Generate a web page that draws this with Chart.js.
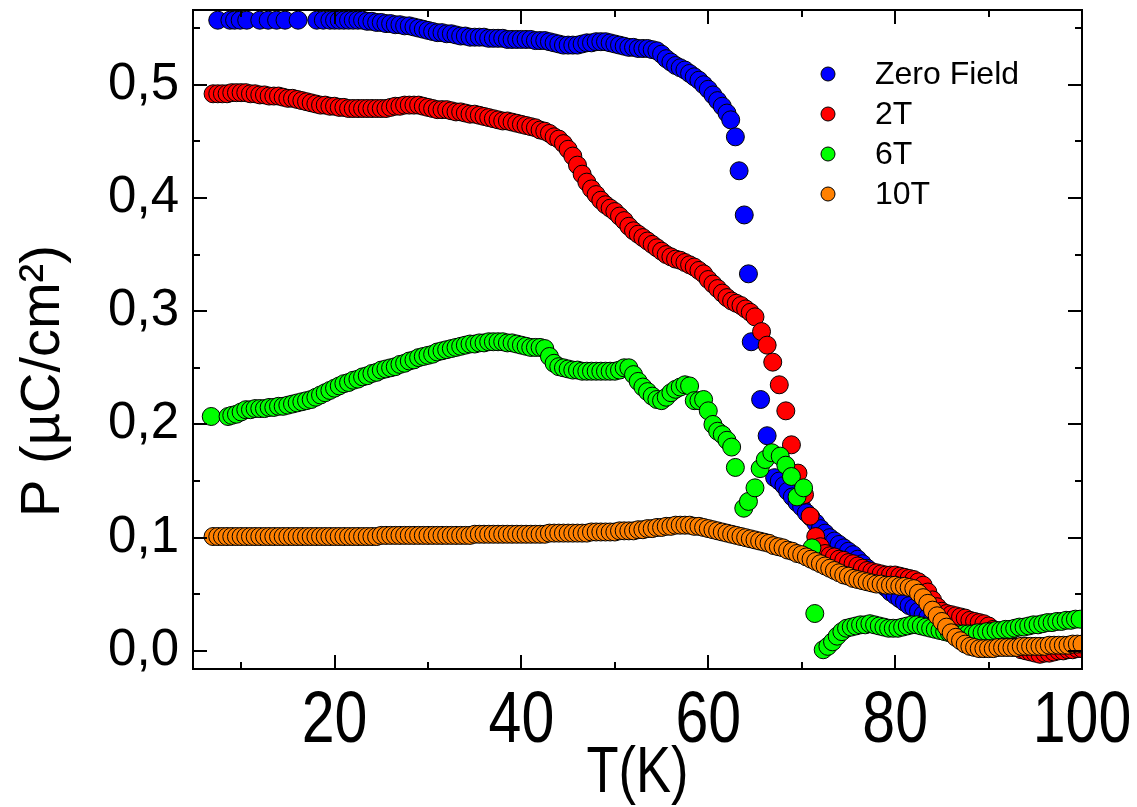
<!DOCTYPE html>
<html>
<head>
<meta charset="utf-8">
<script src="https://cdn.jsdelivr.net/npm/chart.js@4.4.0/dist/chart.umd.min.js"></script>
<style>
  html, body { margin: 0; padding: 0; background: #fff; }
  #wrap { width: 1137px; height: 807px; position: relative; }
</style>
</head>
<body>
<div id="wrap"><canvas id="pChart"></canvas></div>
<script>
// tick positions / labels
const xTickLabels = [20, 40, 60, 80, 100];
const xMinorTicks = [10, 30, 50, 70, 90];
const yTickLabels = [0, 0.1, 0.2, 0.3, 0.4, 0.5];
const yMinorTicks = [0.05, 0.15, 0.25, 0.35, 0.45, 0.55];

const seriesNames = ['Zero Field', '2T', '6T', '10T'];
const seriesColors = ['#0000ff', '#ff0000', '#00ff00', '#ff8000'];

// Zero Field
const tZero = [7.5, 8.8, 9.3, 9.9, 10.6, 12.0, 12.9, 13.8, 14.7, 16.1, 18.1, 18.8, 19.5,
  20, 20.5, 21, 21.5, 22, 22.5, 23, 23.5, 24, 24.5, 25, 25.5, 26, 26.5, 27, 27.5, 28, 28.5, 29, 29.5,
  30, 30.5, 31, 31.5, 32, 32.5, 33, 33.5, 34, 34.5, 35, 35.5, 36, 36.5, 37, 37.5, 38, 38.5, 39, 39.5,
  40, 40.5, 41, 41.5, 42, 42.5, 43, 43.5, 44, 44.5, 45, 45.5, 46, 46.5, 47, 47.5, 48, 48.5, 49, 49.5,
  50, 50.5, 51, 51.5, 52, 52.5, 53, 53.5, 54, 54.5, 55, 55.5, 56, 56.5, 57, 57.5, 58, 58.5, 59, 59.5,
  60, 60.5, 61, 61.5, 62, 62.4, 62.9, 63.3, 63.85, 64.3, 64.6, 65.6, 66.3, 67.1, 67.6, 68.1, 68.5,
  69, 69.5, 70, 70.5, 71, 71.5, 72, 72.5, 73, 73.5, 74, 74.5, 75, 75.5, 76, 76.5, 77, 77.5, 78, 78.5, 79, 79.5,
  80, 80.5, 81, 81.5, 82, 82.5, 83, 83.5, 84, 84.5, 85, 85.5, 86, 86.5, 87, 87.5, 88, 88.5, 89, 89.5, 90];
const pZero = [.557, .557, .557, .557, .557, .557, .557, .557, .557, .557, .557, .557, .557,
  .557, .557, .557, .557, .557, .557, .557, .556, .556, .555, .555, .554, .554, .553, .553, .552, .552, .551, .550, .549,
  .548, .547, .546, .546, .545, .545, .544, .543, .543, .542, .542, .542, .542, .541, .541, .541, .541, .540, .540, .540,
  .540, .540, .540, .539, .539, .539, .538, .537, .536, .535, .535, .535, .535, .536, .537, .537, .538, .538, .538, .537,
  .536, .535, .534, .533, .533, .532, .532, .532, .531, .530, .527, .523, .520, .517, .515, .513, .510, .507, .504, .500,
  .496, .491, .486, .481, .475, .469, .454, .424, .385, .333, .273, .222, .190, .153, .150, .146, .141,
  .136, .131, .127, .122, .118, .113, .108, .104, .100, .097, .094, .091, .088, .085, .081, .077, .073, .069, .064, .060, .056, .052,
  .049, .046, .043, .040, .038, .035, .032, .030, .028, .025, .023, .021, .019, .016, .014, .012, .010, .008, .006, .005, .004];

// 2T
const tRed = [7, 7.5, 8, 8.5, 9, 9.5, 10, 10.5, 11, 11.5,
  12, 12.5, 13, 13.5, 14, 14.5, 15, 15.5, 16, 16.5,
  17, 17.5, 18, 18.5, 19, 19.5, 20, 20.5, 21, 21.5,
  22, 22.5, 23, 23.5, 24, 24.5, 25, 25.5, 26, 26.5,
  27, 27.5, 28, 28.5, 29, 29.5, 30, 30.5, 31, 31.5,
  32, 32.5, 33, 33.5, 34, 34.5, 35, 35.5, 36, 36.5,
  37, 37.5, 38, 38.5, 39, 39.5, 40, 40.5, 41, 41.5,
  42, 42.5, 43, 43.5, 44, 44.5, 45, 45.5, 46, 46.5,
  47, 47.5, 48, 48.5, 49, 49.5, 50, 50.5, 51, 51.5,
  52, 52.5, 53, 53.5, 54, 54.5, 55, 55.5, 56, 56.5,
  57, 57.5, 58, 58.5, 59, 59.5, 60, 60.5, 61, 61.5,
  62, 62.5, 63, 63.5, 64, 64.5, 65,
  65.7, 66.3, 66.9, 67.6, 68.3, 68.9, 69.6, 70.3, 70.9, 71.5,
  72, 72.5, 73, 73.5, 74, 74.5, 75, 75.5, 76, 76.5,
  77, 77.5, 78, 78.5, 79, 79.5, 80, 80.5, 81, 81.5,
  82, 82.5, 83, 83.5, 84, 84.5, 85, 85.5, 86, 86.5,
  87, 87.5, 88, 88.5, 89, 89.5, 90, 90.5, 91, 91.5,
  92, 92.5, 93, 93.5, 94, 94.5, 95, 95.5, 96, 96.5,
  97, 97.5, 98, 98.5, 99, 99.5, 100];
const pRed = [.492, .492, .492, .492, .493, .493, .493, .493, .492, .492,
  .491, .491, .490, .490, .490, .489, .488, .488, .487, .486,
  .485, .484, .483, .482, .482, .481, .481, .480, .480, .479,
  .479, .479, .479, .479, .479, .479, .479, .479, .480, .481,
  .481, .482, .482, .482, .482, .481, .480, .479, .478, .478,
  .478, .477, .476, .476, .475, .474, .474, .473, .472, .471,
  .470, .469, .468, .468, .467, .466, .465, .464, .463, .462,
  .460, .459, .457, .454, .452, .448, .443, .437, .429, .421,
  .414, .408, .403, .398, .394, .391, .388, .384, .380, .375,
  .371, .368, .365, .362, .359, .356, .353, .350, .348, .346,
  .345, .343, .341, .339, .336, .333, .328, .324, .320, .316,
  .312, .309, .307, .305, .302, .299, .295,
  .282, .270, .255, .235, .212, .182, .157, .138, .119, .101,
  .092, .086, .084, .083, .081, .080, .078, .077, .075, .073,
  .071, .070, .069, .068, .067, .067, .067, .066, .065, .064,
  .063, .061, .058, .052, .045, .039, .035, .033, .032, .031,
  .030, .029, .027, .026, .025, .024, .022, .019, .015, .011,
  .008, .005, .003, .001, .000, -.001, -.002, -.003, -.002, -.002,
  -.001, .000, .000, .001, .001, .002, .002];

// 6T
const tGreen = [6.8, 8.6,
  9, 9.5, 10, 10.5, 11, 11.5, 12, 12.5, 13, 13.5,
  14, 14.5, 15, 15.5, 16, 16.5, 17, 17.5, 18, 18.5,
  19, 19.5, 20, 20.5, 21, 21.5, 22, 22.5, 23, 23.5,
  24, 24.5, 25, 25.5, 26, 26.5, 27, 27.5, 28, 28.5,
  29, 29.5, 30, 30.5, 31, 31.5, 32, 32.5, 33, 33.5,
  34, 34.5, 35, 35.5, 36, 36.5, 37, 37.5, 38, 38.5,
  39, 39.5, 40, 40.5, 41, 41.5, 42, 42.5, 43, 43.5,
  44, 44.5, 45, 45.5, 46, 46.5, 47, 47.5, 48, 48.5,
  49, 49.5, 50, 50.5, 51, 51.5, 52, 52.5, 53, 53.5,
  54, 54.5, 55, 55.5, 56, 56.5, 57, 57.5, 58, 58.5,
  59, 59.5, 60, 60.5, 61, 61.5, 62, 62.5,
  62.9, 63.8, 64.3, 65.0, 65.55, 66.1, 66.8, 67.7, 68.3, 68.9, 69.5, 70.2, 71.1, 71.4, 72.3,
  72.8, 73.3, 73.8, 74.3, 74.8, 75.3, 75.8, 76.3, 76.8, 77.3,
  77.8, 78.3, 78.8, 79.3, 79.8, 80.3, 80.8, 81.3, 81.8, 82.3,
  82.8, 83.3, 83.8, 84.3, 84.8, 85.3, 85.8, 86.3, 86.8, 87.3,
  87.8, 88.3, 88.8, 89.3, 89.8, 90.3, 90.8, 91.3, 91.8, 92.3,
  92.8, 93.3, 93.8, 94.3, 94.8, 95.3, 95.8, 96.3, 96.8, 97.3,
  97.8, 98.3, 98.8, 99.3, 99.8];
const pGreen = [.207, .207,
  .208, .209, .211, .213, .213, .214, .214, .214, .215, .215,
  .216, .216, .217, .218, .219, .220, .221, .222, .224, .226,
  .228, .230, .232, .234, .236, .237, .239, .240, .242, .243,
  .245, .246, .248, .249, .250, .251, .253, .254, .256, .257,
  .259, .260, .261, .262, .264, .265, .266, .267, .268, .269,
  .270, .271, .271, .272, .272, .273, .273, .273, .273, .272,
  .272, .271, .270, .269, .268, .268, .268, .267, .260, .254,
  .251, .250, .249, .248, .248, .247, .247, .247, .247, .247,
  .247, .247, .247, .248, .250, .250, .244, .238, .233, .229,
  .225, .222, .221, .224, .228, .231, .233, .235, .234, .221,
  .221, .222, .212, .200, .194, .191, .186, .180,
  .162, .126, .132, .144, .161, .169, .175, .172, .164, .154, .136, .144, .091, .033, .001,
  .004, .008, .013, .017, .020, .021, .022, .023, .023, .024,
  .023, .022, .021, .020, .020, .020, .021, .022, .023, .023,
  .022, .021, .020, .019, .018, .017, .016, .015, .015, .015,
  .015, .015, .016, .016, .017, .017, .018, .018, .019, .019,
  .020, .021, .021, .022, .023, .023, .024, .025, .025, .026,
  .026, .027, .027, .028, .028];

// 10T
const tOrange = [7, 7.5, 8, 8.5, 9, 9.5, 10, 10.5, 11, 11.5,
  12, 12.5, 13, 13.5, 14, 14.5, 15, 15.5, 16, 16.5,
  17, 17.5, 18, 18.5, 19, 19.5, 20, 20.5, 21, 21.5,
  22, 22.5, 23, 23.5, 24, 24.5, 25, 25.5, 26, 26.5,
  27, 27.5, 28, 28.5, 29, 29.5, 30, 30.5, 31, 31.5,
  32, 32.5, 33, 33.5, 34, 34.5, 35, 35.5, 36, 36.5,
  37, 37.5, 38, 38.5, 39, 39.5, 40, 40.5, 41, 41.5,
  42, 42.5, 43, 43.5, 44, 44.5, 45, 45.5, 46, 46.5,
  47, 47.5, 48, 48.5, 49, 49.5, 50, 50.5, 51, 51.5,
  52, 52.5, 53, 53.5, 54, 54.5, 55, 55.5, 56, 56.5,
  57, 57.5, 58, 58.5, 59, 59.5, 60, 60.5, 61, 61.5,
  62, 62.5, 63, 63.5, 64, 64.5, 65, 65.5, 66, 66.5,
  67, 67.5, 68, 68.5, 69, 69.5, 70, 70.5, 71, 71.5,
  72, 72.5, 73, 73.5, 74, 74.5, 75, 75.5, 76, 76.5,
  77, 77.5, 78, 78.5, 79, 79.5, 80, 80.5, 81, 81.5,
  82, 82.5, 83, 83.5, 84, 84.5, 85, 85.5, 86, 86.5,
  87, 87.5, 88, 88.5, 89, 89.5, 90, 90.5, 91, 91.5,
  92, 92.5, 93, 93.5, 94, 94.5, 95, 95.5, 96, 96.5,
  97, 97.5, 98, 98.5, 99, 99.5, 100];
const pOrange = [.101, .101, .101, .101, .101, .101, .101, .101, .101, .101,
  .101, .101, .101, .101, .101, .101, .101, .101, .101, .101,
  .101, .101, .101, .101, .101, .101, .101, .101, .101, .101,
  .101, .101, .101, .101, .101, .101, .102, .102, .102, .102,
  .102, .102, .102, .102, .102, .102, .102, .102, .102, .102,
  .102, .102, .102, .102, .102, .102, .103, .103, .103, .103,
  .103, .103, .103, .103, .103, .103, .103, .103, .103, .103,
  .103, .103, .104, .104, .104, .104, .104, .104, .104, .104,
  .104, .105, .105, .105, .105, .105, .105, .106, .106, .106,
  .106, .107, .107, .108, .108, .109, .109, .110, .110, .111,
  .111, .111, .111, .110, .110, .109, .108, .107, .106, .105,
  .104, .103, .102, .101, .100, .099, .098, .097, .096, .095,
  .093, .092, .091, .089, .088, .086, .085, .083, .081, .079,
  .077, .075, .073, .071, .069, .067, .066, .064, .063, .062,
  .061, .060, .059, .059, .058, .058, .058, .057, .057, .056,
  .055, .051, .047, .042, .036, .031, .026, .021, .016, .012,
  .009, .006, .004, .003, .002, .002, .002, .002, .003, .003,
  .003, .003, .003, .004, .004, .004, .004, .004, .004, .005,
  .005, .005, .005, .005, .006, .006, .006];

const xMin = 4.85, xMax = 100;
const yMin = -0.016, yMax = 0.566;

const sansFont = "'Liberation Sans', Arial, sans-serif";
const narrowScale = 0.82; // x-axis text is set in a narrow face

function toPoints(ts, ps) {
  return ts.map((t, i) => ({ x: t, y: ps[i] }));
}

function makeSet(i, ts, ps, order) {
  return {
    label: seriesNames[i],
    data: toPoints(ts, ps),
    backgroundColor: seriesColors[i],
    borderColor: '#000',
    pointRadius: 9,
    pointBorderWidth: 1,
    pointHoverRadius: 9,
    showLine: false,
    order: order,
    clip: 0
  };
}

function narrowText(ctx, text, x, y) {
  ctx.save();
  ctx.translate(x, y);
  ctx.scale(narrowScale, 1);
  ctx.fillText(text, 0, 0);
  ctx.restore();
}

// frame, inward ticks, x labels, axis titles and legend
const decorPlugin = {
  id: 'decor',
  afterDatasetsDraw(chart) {
    const { ctx, chartArea: a, scales: { x, y } } = chart;
    ctx.save();
    ctx.strokeStyle = '#000';
    ctx.lineWidth = 2;
    ctx.strokeRect(a.left, a.top, a.right - a.left, a.bottom - a.top);
    const xTicks = (vals, len) => vals.forEach(v => {
      const px = Math.round(x.getPixelForValue(v));
      ctx.beginPath();
      ctx.moveTo(px, a.bottom); ctx.lineTo(px, a.bottom - len);
      ctx.moveTo(px, a.top); ctx.lineTo(px, a.top + len);
      ctx.stroke();
    });
    const yTicks = (vals, len) => vals.forEach(v => {
      const py = Math.round(y.getPixelForValue(v));
      ctx.beginPath();
      ctx.moveTo(a.left, py); ctx.lineTo(a.left + len, py);
      ctx.moveTo(a.right, py); ctx.lineTo(a.right - len, py);
      ctx.stroke();
    });
    xTicks(xTickLabels, 14);
    xTicks(xMinorTicks, 7);
    yTicks(yTickLabels, 14);
    yTicks(yMinorTicks, 7);
    ctx.restore();
  },
  afterDraw(chart) {
    const { ctx, chartArea: a, scales: { x } } = chart;
    ctx.save();
    ctx.fillStyle = '#000';
    // x tick labels
    ctx.font = '72px ' + sansFont;
    ctx.textAlign = 'center';
    ctx.textBaseline = 'alphabetic';
    xTickLabels.forEach(v => narrowText(ctx, String(v), x.getPixelForValue(v), 742));
    // x title
    ctx.font = '64px ' + sansFont;
    narrowText(ctx, 'T(K)', (a.left + a.right) / 2, 792);
    // y title
    ctx.save();
    ctx.translate(44, 381);
    ctx.rotate(-Math.PI / 2);
    ctx.font = '56px ' + sansFont;
    ctx.textAlign = 'center';
    ctx.textBaseline = 'middle';
    ctx.fillText('P (\u00B5C/cm\u00B2)', 0, 0);
    ctx.restore();
    // legend
    ctx.font = '32px ' + sansFont;
    ctx.textAlign = 'left';
    ctx.textBaseline = 'middle';
    seriesNames.forEach((name, i) => {
      const cy = 74 + 40 * i;
      ctx.beginPath();
      ctx.arc(828, cy, 7, 0, Math.PI * 2);
      ctx.fillStyle = seriesColors[i];
      ctx.fill();
      ctx.lineWidth = 1;
      ctx.strokeStyle = '#000';
      ctx.stroke();
      ctx.fillStyle = '#000';
      ctx.fillText(name, 875, cy + 1);
    });
    ctx.restore();
  }
};

const ctx = document.getElementById('pChart').getContext('2d');
const pChart = new Chart(ctx, {
  type: 'scatter',
  data: {
    datasets: [
      makeSet(0, tZero, pZero, 4),
      makeSet(1, tRed, pRed, 3),
      makeSet(2, tGreen, pGreen, 2),
      makeSet(3, tOrange, pOrange, 1)
    ]
  },
  options: {
    responsive: true,
    maintainAspectRatio: false,
    animation: false,
    layout: { padding: { left: 0, right: 55, top: 10, bottom: 0 } },
    plugins: {
      legend: { display: false },
      tooltip: { enabled: false }
    },
    scales: {
      x: {
        type: 'linear',
        min: xMin,
        max: xMax,
        grid: { display: false, drawTicks: false },
        border: { display: false },
        afterBuildTicks: scale => { scale.ticks = xTickLabels.map(v => ({ value: v })); },
        afterFit: scale => { scale.height = 138; scale.paddingLeft = 0; scale.paddingRight = 0; },
        ticks: { display: false }
      },
      y: {
        type: 'linear',
        min: yMin,
        max: yMax,
        grid: { display: false, drawTicks: false },
        border: { display: false },
        afterBuildTicks: scale => { scale.ticks = yTickLabels.map(v => ({ value: v })); },
        afterFit: scale => { scale.width = 193; scale.paddingTop = 0; scale.paddingBottom = 0; },
        ticks: {
          color: '#000',
          padding: 14,
          autoSkip: false,
          font: { family: sansFont, size: 51 },
          callback: v => v.toFixed(1).replace('.', ',')
        }
      }
    }
  },
  plugins: [decorPlugin]
});
</script>
</body>
</html>
